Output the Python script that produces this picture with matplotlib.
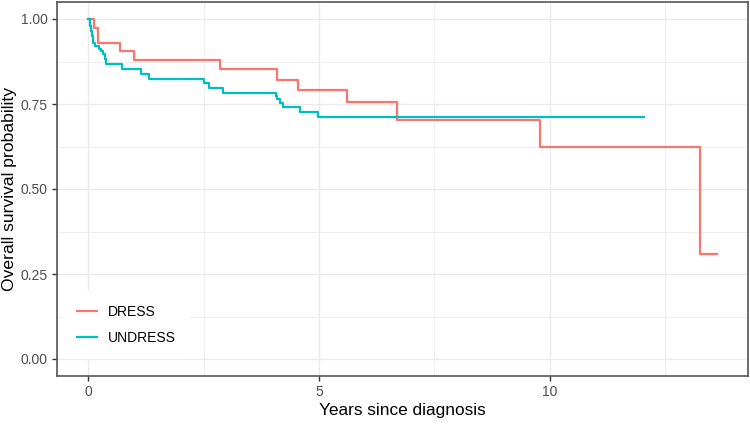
import matplotlib.pyplot as plt

plt.rcParams['font.family'] = ['Liberation Sans', 'DejaVu Sans']

# Kaplan-Meier steps (time in years, survival)
dress_time = [0.0, 0.12, 0.21, 0.68, 0.98, 2.86, 4.09, 4.54, 5.61, 6.70, 9.79, 13.26, 13.62]
dress_surv = [1.0, 0.974, 0.930, 0.906, 0.879, 0.852, 0.821, 0.791, 0.755, 0.703, 0.624, 0.309, 0.309]

undress_time = [0.0, 0.03, 0.04, 0.065, 0.08, 0.10, 0.15, 0.23, 0.28, 0.32, 0.35, 0.39,
                0.73, 1.13, 1.31, 2.50, 2.62, 2.92, 4.06, 4.09, 4.16, 4.22, 4.58, 4.97, 12.05]
undress_surv = [1.0, 0.990, 0.979, 0.965, 0.950, 0.930, 0.921, 0.912, 0.906, 0.896, 0.881, 0.867,
                0.852, 0.837, 0.825, 0.811, 0.798, 0.783, 0.774, 0.764, 0.754, 0.742, 0.727, 0.713, 0.713]

groups = ['DRESS', 'UNDRESS']
colours = ['#F8766D', '#00BFC4']

fig = plt.figure(figsize=(7.5, 4.24), dpi=100)
ax = fig.add_axes([57 / 750, 1 - 376 / 424, 691 / 750, 374 / 424])

ax.step(dress_time, dress_surv, where='post', color=colours[0], lw=1.6, label=groups[0])
ax.step(undress_time, undress_surv, where='post', color=colours[1], lw=1.6, label=groups[1])

xmax = 13.62
ax.set_xlim(-0.05 * xmax, 1.05 * xmax)
ax.set_ylim(-0.05, 1.05)
ax.set_xticks([0, 5, 10])
ax.set_yticks([0, 0.25, 0.5, 0.75, 1.0])
ax.set_yticklabels(['0.00', '0.25', '0.50', '0.75', '1.00'])
ax.set_xticks([2.5, 7.5, 12.5], minor=True)
ax.set_yticks([0.125, 0.375, 0.625, 0.875], minor=True)

ax.grid(which='major', color='#EBEBEB', lw=1.0)
ax.grid(which='minor', color='#EBEBEB', lw=0.6)
ax.set_axisbelow(True)
ax.tick_params(which='minor', length=0)
ax.tick_params(which='major', length=3.5, width=1, color='#333333',
               labelcolor='#4D4D4D', labelsize=10, pad=3)
for s in ax.spines.values():
    s.set_color('#555555')
    s.set_linewidth(1.2)

ax.set_xlabel('Years since diagnosis', fontsize=12.4, labelpad=3)
ax.set_ylabel('Overall survival probability', fontsize=12.6, labelpad=3)

leg = ax.legend(loc='center left', bbox_to_anchor=(0.009, 0.136), borderaxespad=0,
                frameon=True, fontsize=10, handlelength=1.45, handletextpad=0.8,
                labelspacing=0.87, borderpad=1.0)
leg.get_frame().set_edgecolor('none')
leg.get_frame().set_facecolor('white')
leg.get_frame().set_alpha(1)

fig.savefig('out.png', dpi=100)
